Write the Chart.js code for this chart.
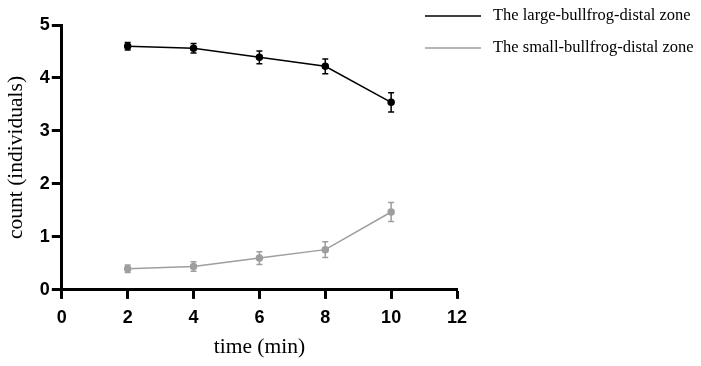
<!DOCTYPE html>
<html>
<head>
<meta charset="utf-8">
<script src="https://cdn.jsdelivr.net/npm/chart.js@4/dist/chart.umd.min.js"></script>
<style>
  body { margin: 0; background: #fff; }
  #wrap { width: 701px; height: 366px; }
</style>
</head>
<body>
<div id="wrap"><canvas id="chartCount" width="701" height="366"></canvas></div>
<script>
'use strict';

// data
const times = [2, 4, 6, 8, 10];
const largeMean = [4.60, 4.56, 4.39, 4.22, 3.54];
const largeErr = [0.07, 0.09, 0.12, 0.14, 0.18];
const smallMean = [0.40, 0.44, 0.60, 0.76, 1.47];
const smallErr = [0.07, 0.09, 0.12, 0.15, 0.18];
const seriesNames = ['The large-bullfrog-distal zone', 'The small-bullfrog-distal zone'];
const seriesColors = ['#000000', '#9e9e9e'];

const toPoints = (xs, ys) => xs.map((x, i) => ({ x: x, y: ys[i] }));

// error bars, drawn through the scales
const errorBars = {
  id: 'errorBars',
  afterDatasetsDraw(chart) {
    const ctx = chart.ctx;
    const xs = chart.scales.x, ys = chart.scales.y;
    chart.data.datasets.forEach(ds => {
      ctx.save();
      ctx.strokeStyle = ds.borderColor;
      ctx.lineWidth = 1.5;
      ds.data.forEach((p, i) => {
        const px = xs.getPixelForValue(p.x);
        const top = ys.getPixelForValue(p.y + ds.err[i]);
        const bot = ys.getPixelForValue(p.y - ds.err[i]);
        ctx.beginPath();
        ctx.moveTo(px, top); ctx.lineTo(px, bot);
        ctx.moveTo(px - 3, top); ctx.lineTo(px + 3, top);
        ctx.moveTo(px - 3, bot); ctx.lineTo(px + 3, bot);
        ctx.stroke();
      });
      ctx.restore();
    });
  }
};

// legend at top right, line sample + label
const sideLegend = {
  id: 'sideLegend',
  afterDraw(chart) {
    const ctx = chart.ctx;
    ctx.save();
    ctx.font = '16.5px "Liberation Serif", "Times New Roman", serif';
    ctx.textBaseline = 'middle';
    chart.data.datasets.forEach((ds, i) => {
      const y = 16 + i * 32;
      ctx.strokeStyle = ds.borderColor;
      ctx.lineWidth = 1.5;
      ctx.beginPath();
      ctx.moveTo(425, y); ctx.lineTo(481, y);
      ctx.stroke();
      ctx.fillStyle = '#000';
      ctx.fillText(ds.label, 493, y);
    });
    ctx.restore();
  }
};

const tickFont = { family: '"Liberation Sans", Arial, sans-serif', size: 18, weight: 'bold' };
const titleFont = { family: '"Liberation Serif", "Times New Roman", serif', size: 21.5 };

new Chart(document.getElementById('chartCount'), {
  type: 'line',
  data: {
    datasets: [
      {
        label: seriesNames[0],
        data: toPoints(times, largeMean),
        err: largeErr,
        borderColor: seriesColors[0],
        backgroundColor: seriesColors[0],
        borderWidth: 1.5,
        pointRadius: 3,
        tension: 0
      },
      {
        label: seriesNames[1],
        data: toPoints(times, smallMean),
        err: smallErr,
        borderColor: seriesColors[1],
        backgroundColor: seriesColors[1],
        borderWidth: 1.5,
        pointRadius: 3,
        tension: 0
      }
    ]
  },
  options: {
    responsive: false,
    animation: false,
    layout: { padding: { left: 3, right: 244, top: 25, bottom: 8 } },
    plugins: {
      legend: { display: false },
      tooltip: { enabled: false }
    },
    scales: {
      x: {
        type: 'linear',
        min: 0, max: 12,
        ticks: { stepSize: 2, color: '#000', font: tickFont, padding: 8, maxRotation: 0 },
        grid: { drawOnChartArea: false, drawTicks: true, tickLength: 9, tickWidth: 3, tickColor: '#000' },
        border: { display: true, width: 3, color: '#000' },
        title: { display: true, text: 'time (min)', color: '#000', font: Object.assign({}, titleFont, { lineHeight: 1.0 }), padding: { top: 0, bottom: 0 } }
      },
      y: {
        min: 0, max: 5,
        ticks: { stepSize: 1, color: '#000', font: tickFont, padding: 2 },
        grid: { drawOnChartArea: false, drawTicks: true, tickLength: 10, tickWidth: 3, tickColor: '#000' },
        border: { display: true, width: 3, color: '#000' },
        title: { display: true, text: 'count (individuals)', color: '#000', font: titleFont, padding: { top: 0, bottom: 9 } }
      }
    }
  },
  plugins: [errorBars, sideLegend]
});
</script>
</body>
</html>
